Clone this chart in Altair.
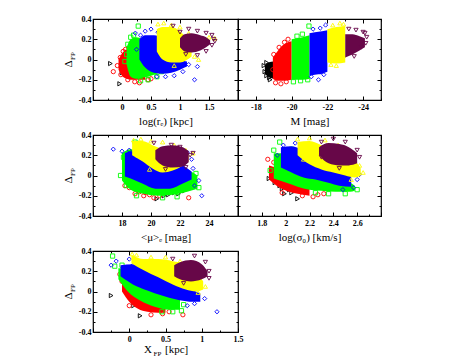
import altair as alt
import pandas as pd

GROUPS = ["black", "red", "green", "blue", "yellow", "maroon"]
COLORS = ["#000000", "#ff0000", "#00ff00", "#0000ff", "#ffff00", "#670748"]
SHAPES = ["triangle-right", "circle", "square", "diamond", "triangle-up", "triangle-down"]

Y_MAJOR = [-0.4, -0.2, 0, 0.2, 0.4]
Y_MINOR = [-0.3, -0.1, 0.1, 0.3]

# ---------- panel 1 : log(r_e) ----------
RE_AREA = {
    "red": [(-0.06, -0.10, 0.00), (0.0, -0.16, 0.06), (0.08, -0.19, 0.10), (0.16, -0.20, 0.08), (0.25, -0.20, -0.02), (0.40, -0.20, -0.14)],
    "green": [(0.08, -0.05, 0.12), (0.15, -0.17, 0.20), (0.25, -0.19, 0.22), (0.35, -0.18, 0.20), (0.45, -0.17, 0.12), (0.55, -0.15, 0.00), (0.65, -0.13, -0.07)],
    "blue": [(0.30, 0.00, 0.20), (0.40, -0.08, 0.24), (0.55, -0.13, 0.24), (0.70, -0.14, 0.20), (0.85, -0.13, 0.06), (1.00, -0.10, 0.00), (1.12, -0.07, -0.02)],
    "yellow": [(0.60, 0.08, 0.30), (0.70, 0.00, 0.32), (0.85, -0.03, 0.32), (1.00, -0.03, 0.28), (1.10, -0.01, 0.22), (1.20, 0.03, 0.14)],
    "maroon": [(1.00, 0.12, 0.21), (1.08, 0.08, 0.25), (1.20, 0.07, 0.26), (1.35, 0.09, 0.24), (1.45, 0.12, 0.22), (1.52, 0.15, 0.19)],
}
RE_PTS = {
    "black": [(-0.20, -0.04), (-0.04, -0.24), (0.0, -0.13), (0.05, -0.14), (0.09, -0.11), (0.13, -0.16), (0.18, -0.13), (0.22, -0.17)],
    "red": [(-0.15, -0.12), (-0.08, -0.06), (-0.03, 0.02), (0.02, 0.08), (0.06, 0.10), (0.10, -0.20), (0.22, -0.22), (0.30, -0.23), (0.45, -0.20), (0.50, -0.19), (-0.02, -0.15), (0.12, 0.11)],
    "green": [(0.28, 0.33), (0.15, 0.22), (0.20, 0.24), (0.10, 0.15), (0.08, 0.05), (0.32, -0.21), (0.45, -0.20), (0.60, -0.17), (0.68, -0.12), (0.50, 0.15), (0.58, 0.05), (0.05, -0.02)],
    "blue": [(0.23, 0.26), (0.32, 0.24), (0.40, 0.28), (0.50, 0.30), (0.62, 0.27), (1.25, -0.20), (1.15, -0.05), (1.05, -0.12), (0.90, -0.16), (0.60, -0.17), (0.75, -0.17), (0.25, 0.10), (1.30, -0.07)],
    "yellow": [(0.62, 0.35), (0.72, 0.36), (0.85, 0.34), (1.00, 0.32), (1.15, 0.26), (1.25, 0.20), (1.30, 0.12), (1.25, 0.03), (1.32, 0.00), (0.90, -0.06), (1.50, 0.22), (1.60, 0.21)],
    "maroon": [(0.88, 0.33), (1.00, 0.27), (1.15, 0.30), (1.30, 0.28), (1.45, 0.26), (1.55, 0.24), (1.58, 0.20), (1.55, 0.14), (1.45, 0.08), (1.30, 0.04), (1.10, 0.05), (1.60, 0.18)],
}

# ---------- panel 2 : M ----------
M_AREA = {
    "black": [(-19.0, -0.19, -0.02), (-18.7, -0.17, -0.03), (-18.5, -0.14, -0.06)],
    "red": [(-20.0, -0.20, 0.18), (-19.5, -0.21, 0.14), (-19.2, -0.21, 0.08), (-18.95, -0.19, 0.02)],
    "green": [(-21.0, -0.19, 0.24), (-20.6, -0.20, 0.22), (-20.3, -0.20, 0.21), (-20.0, -0.20, 0.20)],
    "blue": [(-22.0, -0.12, 0.29), (-21.7, -0.14, 0.28), (-21.3, -0.15, 0.27), (-21.0, -0.16, 0.26)],
    "yellow": [(-23.0, -0.03, 0.33), (-22.5, -0.04, 0.32), (-22.0, -0.03, 0.30)],
    "maroon": [(-24.1, 0.12, 0.21), (-23.8, 0.09, 0.23), (-23.4, 0.05, 0.25), (-23.0, 0.02, 0.25)],
}
M_PTS = {
    "black": [(-18.45, -0.06), (-18.5, -0.12), (-18.6, -0.16), (-18.7, -0.09), (-18.8, -0.20), (-18.9, -0.05), (-18.6, -0.03), (-18.75, -0.18)],
    "red": [(-19.4, -0.24), (-19.1, -0.23), (-19.7, -0.22), (-19.3, 0.12), (-19.6, 0.17), (-19.8, 0.20), (-19.0, 0.05), (-18.95, -0.10)],
    "green": [(-20.97, 0.33), (-20.6, 0.25), (-20.3, 0.23), (-20.1, -0.22), (-20.5, -0.21), (-20.9, -0.20)],
    "blue": [(-21.2, 0.30), (-21.6, 0.31), (-21.9, 0.34), (-21.5, -0.20), (-21.8, -0.15), (-21.1, -0.17)],
    "yellow": [(-22.3, 0.34), (-22.7, 0.36), (-22.9, 0.35), (-22.5, -0.06), (-22.9, 0.04), (-22.2, -0.05)],
    "maroon": [(-23.2, 0.30), (-23.6, 0.29), (-24.0, 0.27), (-24.2, 0.22), (-24.1, 0.26), (-23.5, 0.03), (-23.9, 0.12), (-24.15, 0.16)],
}

# ---------- panel 3 : <mu>_e ----------
MU_AREA = {
    "green": [(18.0, -0.05, 0.22), (18.6, -0.14, 0.26), (19.5, -0.18, 0.22), (20.5, -0.20, 0.12), (21.5, -0.19, 0.06), (22.5, -0.16, 0.05), (23.2, -0.13, 0.00)],
    "blue": [(18.2, -0.01, 0.22), (18.6, -0.03, 0.24), (19.4, -0.08, 0.22), (20.3, -0.13, 0.20), (21.3, -0.13, 0.15), (22.2, -0.08, 0.10), (22.8, -0.04, 0.04)],
    "yellow": [(18.7, 0.20, 0.34), (19.4, 0.14, 0.34), (20.1, 0.07, 0.30), (20.8, 0.03, 0.26), (21.5, 0.05, 0.22), (22.2, 0.10, 0.22), (22.6, 0.14, 0.20)],
    "maroon": [(20.3, 0.16, 0.25), (20.8, 0.10, 0.29), (21.5, 0.08, 0.30), (22.2, 0.09, 0.28), (22.6, 0.13, 0.24)],
}
MU_PTS = {
    "black": [(20.4, -0.23), (21.2, -0.19), (21.6, -0.17), (21.9, -0.18), (22.3, -0.15), (20.9, -0.20)],
    "red": [(18.5, -0.12), (18.9, -0.18), (19.2, -0.16), (19.6, -0.17), (19.9, -0.19), (20.2, -0.22), (22.6, -0.22), (18.8, -0.05), (19.5, -0.20), (20.6, -0.20), (18.2, -0.10)],
    "green": [(17.9, 0.00), (18.1, 0.18), (18.9, 0.33), (18.3, -0.10), (19.0, -0.20), (23.3, -0.12), (23.0, -0.06), (21.8, -0.21), (20.8, -0.22), (23.1, 0.02)],
    "blue": [(17.4, 0.26), (18.0, 0.24), (18.5, 0.25), (21.8, 0.27), (22.5, 0.23), (22.9, 0.07), (23.3, -0.05), (23.5, -0.20), (22.8, 0.16), (23.0, -0.10)],
    "yellow": [(18.8, 0.35), (19.3, 0.36), (20.0, 0.34), (20.8, 0.33), (21.6, 0.30), (22.4, 0.25), (22.9, 0.22), (19.1, 0.20), (19.9, 0.06)],
    "maroon": [(20.2, 0.32), (21.4, 0.30), (22.0, 0.28), (22.7, 0.20), (22.9, 0.22), (21.0, 0.06), (22.4, 0.08)],
}

# ---------- panel 4 : log(sigma_0) ----------
SIG_AREA = {
    "red": [(1.86, -0.04, 0.10), (1.95, -0.12, 0.06), (2.03, -0.16, 0.00), (2.10, -0.18, -0.05), (2.20, -0.20, -0.10)],
    "green": [(1.90, -0.03, 0.22), (2.00, -0.07, 0.22), (2.10, -0.11, 0.16), (2.20, -0.14, 0.06), (2.30, -0.15, 0.00), (2.42, -0.16, -0.03), (2.54, -0.16, -0.07), (2.58, -0.15, -0.10)],
    "blue": [(1.96, 0.08, 0.28), (2.05, 0.03, 0.29), (2.15, -0.02, 0.25), (2.25, -0.04, 0.20), (2.35, -0.07, 0.15), (2.45, -0.10, 0.08), (2.55, -0.11, 0.03)],
    "yellow": [(2.10, 0.20, 0.33), (2.20, 0.11, 0.34), (2.30, 0.06, 0.30), (2.40, 0.03, 0.25), (2.50, 0.00, 0.20), (2.58, -0.02, 0.15), (2.63, 0.00, 0.07)],
    "maroon": [(2.28, 0.20, 0.28), (2.36, 0.12, 0.32), (2.45, 0.10, 0.31), (2.53, 0.10, 0.28), (2.60, 0.12, 0.22)],
}
SIG_PTS = {
    "black": [(1.86, -0.03), (1.91, -0.07), (1.95, -0.10), (1.97, -0.13), (2.03, -0.14), (2.05, -0.17), (2.08, -0.15), (2.10, -0.23), (1.99, -0.18)],
    "red": [(1.85, 0.16), (1.90, 0.13), (2.23, -0.21), (2.27, -0.19), (2.32, -0.18), (2.14, -0.20), (1.97, -0.17), (2.00, 0.06)],
    "green": [(1.95, 0.33), (1.90, 0.25), (2.05, 0.26), (2.60, -0.14), (2.50, -0.18), (2.36, -0.18), (2.25, -0.17), (1.87, 0.05)],
    "blue": [(1.98, 0.30), (2.08, 0.32), (2.14, 0.30), (2.60, -0.04), (2.57, -0.12), (2.48, -0.14), (1.93, 0.20), (2.62, 0.01)],
    "yellow": [(2.10, 0.36), (2.20, 0.37), (2.33, 0.35), (2.44, 0.30), (2.62, 0.10), (2.65, 0.03), (2.55, -0.04), (2.15, 0.16)],
    "maroon": [(2.30, 0.33), (2.40, 0.36), (2.50, 0.33), (2.60, 0.25), (2.62, 0.18), (2.45, 0.07), (2.30, 0.18)],
}

# ---------- panel 5 : X_FP ----------
XFP_AREA = {
    "red": [(-0.10, 0.00, 0.14), (0.00, -0.10, 0.12), (0.12, -0.17, 0.03), (0.25, -0.20, -0.05), (0.40, -0.21, -0.12), (0.50, -0.21, -0.16)],
    "green": [(-0.15, 0.12, 0.23), (-0.02, 0.00, 0.22), (0.15, -0.09, 0.16), (0.35, -0.15, 0.05), (0.55, -0.18, -0.03), (0.70, -0.18, -0.08)],
    "blue": [(-0.12, 0.15, 0.26), (0.05, 0.07, 0.27), (0.25, 0.01, 0.24), (0.45, -0.04, 0.18), (0.65, -0.08, 0.08), (0.83, -0.10, 0.03), (0.98, -0.10, -0.02)],
    "yellow": [(0.03, 0.28, 0.36), (0.20, 0.21, 0.32), (0.40, 0.14, 0.32), (0.60, 0.07, 0.30), (0.78, 0.02, 0.27), (0.92, 0.00, 0.20), (1.02, 0.02, 0.10)],
    "maroon": [(0.62, 0.15, 0.26), (0.70, 0.12, 0.29), (0.85, 0.10, 0.31), (1.00, 0.12, 0.27), (1.08, 0.15, 0.20)],
}
XFP_PTS = {
    "black": [(-0.25, -0.04), (0.15, -0.24), (0.08, -0.07), (0.10, -0.12), (0.06, -0.14), (0.14, -0.10), (0.20, -0.15)],
    "red": [(-0.13, 0.17), (-0.10, 0.10), (-0.05, 0.06), (0.00, -0.14), (0.46, -0.22), (0.55, -0.20), (0.74, -0.23), (0.30, -0.23), (0.05, 0.15)],
    "green": [(-0.23, 0.35), (-0.20, 0.25), (-0.10, 0.26), (0.75, -0.13), (0.72, -0.19), (0.60, -0.20), (0.45, -0.20)],
    "blue": [(-0.25, 0.26), (-0.18, 0.30), (0.00, 0.32), (0.05, 0.26), (1.21, -0.20), (1.04, -0.07), (0.90, -0.12), (0.80, -0.14)],
    "yellow": [(0.04, 0.37), (0.10, 0.36), (0.30, 0.34), (0.50, 0.34), (0.70, 0.30), (0.95, 0.24), (1.05, 0.05), (0.95, -0.01)],
    "maroon": [(0.60, 0.32), (0.90, 0.35), (1.05, 0.29), (1.10, 0.20), (1.10, 0.13), (0.75, 0.08)],
}

FONT = "Liberation Serif"
TM, TN = 4, 2  # major / minor tick length


def make_panel(area, pts, xdom, xmajor, xminor, xlabels, w, h, xtitle=None,
               ylabels=False, rev=False, xfp=False):
    xs = alt.Scale(domain=xdom, nice=False, zero=False, reverse=rev)
    ys = alt.Scale(domain=[-0.4, 0.4], nice=False, zero=False)
    layers = []
    for gi, g in enumerate(GROUPS):
        if g in area:
            dfa = pd.DataFrame(area[g], columns=["x", "lo", "hi"])
            layers.append(alt.Chart(dfa).mark_area(color=COLORS[gi], opacity=1, interpolate="monotone").encode(
                x=alt.X("x:Q", scale=xs, axis=None),
                y=alt.Y("lo:Q", scale=ys, axis=None),
                y2="hi:Q"))
        if g in pts:
            dfp = pd.DataFrame(pts[g], columns=["x", "y"])
            layers.append(alt.Chart(dfp).mark_point(shape=SHAPES[gi], color=COLORS[gi], filled=False,
                                                    size=18, strokeWidth=0.9, opacity=1).encode(
                x=alt.X("x:Q", scale=xs, axis=None),
                y=alt.Y("y:Q", scale=ys, axis=None)))
    anchor = pd.DataFrame({"x": [(xdom[0] + xdom[1]) / 2], "y": [0.0]})

    def axl(xa, ya):
        return alt.Chart(anchor).mark_point(opacity=0, size=1).encode(
            x=alt.X("x:Q", scale=xs, axis=xa), y=alt.Y("y:Q", scale=ys, axis=ya))

    def tick_axis(orient, values, size):
        return alt.Axis(orient=orient, values=values, offset=-size, tickSize=size, tickWidth=1,
                        tickColor="black", labels=False, domain=False, grid=False, title=None,
                        minExtent=0, maxExtent=0)

    layers.append(axl(tick_axis("bottom", xmajor, TM), tick_axis("left", Y_MAJOR, TM)))
    layers.append(axl(tick_axis("top", xmajor, TM), tick_axis("right", Y_MAJOR, TM)))
    layers.append(axl(tick_axis("bottom", xminor, TN), tick_axis("left", Y_MINOR, TN)))
    layers.append(axl(tick_axis("top", xminor, TN), tick_axis("right", Y_MINOR, TN)))

    lab = dict(labelExpr="'' + datum.value", labelFont=FONT, labelFontSize=8, labelFontWeight="bold",
               labelColor="black", labelFlush=False, ticks=False, domain=False, grid=False, minExtent=0)
    xa = alt.Axis(orient="bottom", values=xlabels, labelPadding=3, title=xtitle, titleFont=FONT,
                  titleFontSize=11, titleFontWeight="normal", titleColor="black", titlePadding=4, **lab)
    if ylabels:
        ya = alt.Axis(orient="left", values=Y_MAJOR, labelPadding=2, title=None, **lab)
        layers.append(axl(xa, ya))
    else:
        layers.append(alt.Chart(anchor).mark_point(opacity=0, size=1).encode(
            x=alt.X("x:Q", scale=xs, axis=xa), y=alt.Y("y:Q", scale=ys, axis=None)))

    if ylabels:
        layers.append(alt.Chart(pd.DataFrame({"t": ["Δ"]})).mark_text(
            font=FONT, fontSize=11, angle=270, align="center", baseline="middle", color="black").encode(
            text="t:N", x=alt.value(-24), y=alt.value(h / 2 + 4.5)))
        layers.append(alt.Chart(pd.DataFrame({"t": ["FP"]})).mark_text(
            font=FONT, fontSize=7, angle=270, align="center", baseline="middle", color="black").encode(
            text="t:N", x=alt.value(-20.5), y=alt.value(h / 2 - 3.5)))
    if xfp:
        layers.append(alt.Chart(pd.DataFrame({"t": ["X"]})).mark_text(
            font=FONT, fontSize=11, align="right", baseline="alphabetic", color="black").encode(
            text="t:N", x=alt.value(59), y=alt.value(h + 21)))
        layers.append(alt.Chart(pd.DataFrame({"t": ["FP"]})).mark_text(
            font=FONT, fontSize=7, align="left", baseline="alphabetic", color="black").encode(
            text="t:N", x=alt.value(60.5), y=alt.value(h + 23.5)))
        layers.append(alt.Chart(pd.DataFrame({"t": ["[kpc]"]})).mark_text(
            font=FONT, fontSize=11, align="left", baseline="alphabetic", color="black").encode(
            text="t:N", x=alt.value(72), y=alt.value(h + 21)))

    return alt.layer(*layers).resolve_axis(x="independent", y="independent").properties(width=w, height=h)


W1, W2, H = 145, 143, 81

p1 = make_panel(RE_AREA, RE_PTS, [-0.5, 2.0], [-0.5, 0, 0.5, 1, 1.5, 2], [-0.25, 0.25, 0.75, 1.25, 1.75],
                [0, 0.5, 1, 1.5], W1, H, xtitle="log(rₑ) [kpc]", ylabels=True)
p2 = make_panel(M_AREA, M_PTS, [-17, -25], [-18, -20, -22, -24], [-17, -19, -21, -23, -25],
                [-18, -20, -22, -24], W2, H, xtitle="M [mag]")
p3 = make_panel(MU_AREA, MU_PTS, [16, 26], [16, 18, 20, 22, 24, 26], [17, 19, 21, 23, 25],
                [18, 20, 22, 24], W1, H, xtitle="<μ>ₑ [mag]", ylabels=True)
p4 = make_panel(SIG_AREA, SIG_PTS, [1.6, 2.8], [1.6, 1.8, 2.0, 2.2, 2.4, 2.6, 2.8], [1.7, 1.9, 2.1, 2.3, 2.5, 2.7],
                [1.8, 2, 2.2, 2.4, 2.6], W2, H, xtitle="log(σ₀) [km/s]")
p5 = make_panel(XFP_AREA, XFP_PTS, [-0.5, 1.5], [-0.5, 0, 0.5, 1, 1.5], [-0.25, 0.25, 0.75, 1.25],
                [0, 0.5, 1, 1.5], W1, H, ylabels=True, xfp=True)

row1 = alt.hconcat(p1, p2, spacing=0, bounds="flush")
row2 = alt.hconcat(p3, p4, spacing=0, bounds="flush")
chart = alt.vconcat(row1, row2, p5, spacing=3).properties(
    padding={"left": 54, "top": 6, "right": 5, "bottom": 5},
    background="white",
).configure_view(stroke="black", strokeWidth=1.2)

chart.save("out.html", embed_options={"renderer": "svg", "actions": False})
